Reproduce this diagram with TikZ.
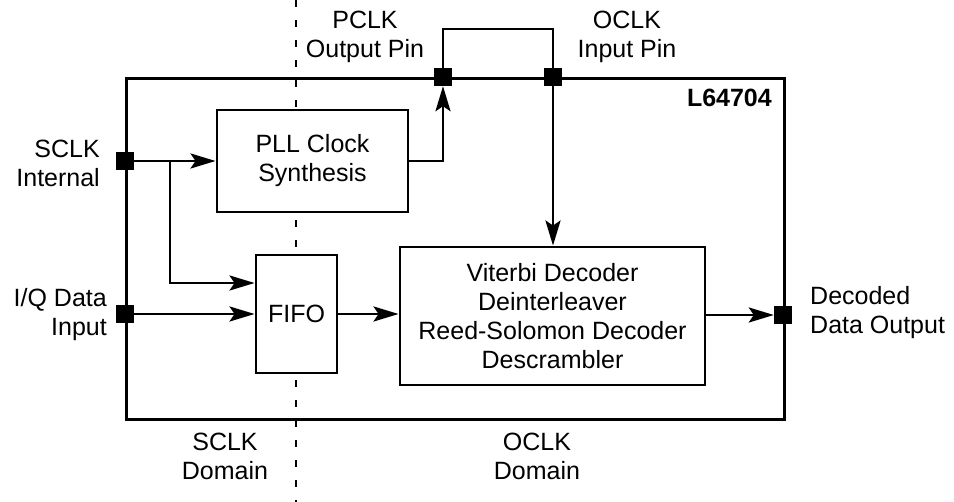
\documentclass[tikz,border=0pt]{standalone}
\usepackage{fontspec}
\setmainfont{Liberation Sans}
\usetikzlibrary{arrows.meta,calc}
\begin{document}
\begin{tikzpicture}[x=1pt,y=-1pt,
  every node/.style={font=\fontsize{25}{29}\selectfont, inner sep=0pt},
  ln/.style={line width=2.9pt},
  arr/.style={ln, -{Stealth[length=25pt,width=15pt,inset=5pt]}},
  blk/.style={ln, draw, fill=white, align=center},
  pinsq/.style={fill=black, minimum size=18pt, inner sep=0pt},
  lbl/.style={align=center}]
\useasboundingbox (0,0) rectangle (954,502);
% domain divider
\coordinate (dtop) at (296,0);
\coordinate (dbot) at (296,502);
\draw[line width=2.9pt, dash pattern=on 7pt off 13pt] (dtop) -- (dbot);
% chip outline
\node[ln, draw, minimum width=658pt, minimum height=341pt, anchor=north west] (chip) at (125,77) {};
% blocks
\node[blk, minimum width=191pt, minimum height=102pt] (pll) at (312.5,161) {PLL Clock\\Synthesis};
\node[blk, minimum width=81pt, minimum height=118pt] (fifo) at (296.5,314) {FIFO};
\node[blk, minimum width=305pt, minimum height=138pt] (vit) at (552.5,316) {Viterbi Decoder\\Deinterleaver\\Reed-Solomon Decoder\\Descrambler};
% pins
\node[pinsq] (sclkpin) at (125,161) {};
\node[pinsq] (iqpin) at (125,314) {};
\node[pinsq] (pclkpin) at (443,77) {};
\node[pinsq] (oclkpin) at (553,77) {};
\node[pinsq] (decpin) at (783,315) {};
% connectors
\coordinate (br) at (170,161);
\coordinate (looptop) at (0,29);
\draw[arr] (sclkpin) -- (pll.west);
\draw[arr] (br) |- ([yshift=31pt]fifo.west);
\draw[arr] (iqpin) -- (fifo.west);
\draw[arr] (fifo.east) -- (fifo.east -| vit.west);
\draw[arr] (vit.east |- decpin) -- (decpin);
\draw[arr] (pll.east) -| (pclkpin);
\draw[ln] (pclkpin) -- (pclkpin |- looptop) -| (oclkpin);
\draw[arr] (oclkpin) -- (oclkpin |- vit.north);
% labels
\node[align=right, anchor=east] (sclklbl) at (100,163) {SCLK\\Internal};
\node[align=right, anchor=east] (iqlbl) at (107,315) {I/Q Data\\Input};
\node[align=left, anchor=west] (declbl) at (810,313) {Decoded\\Data Output};
\node[lbl] (pclklbl) at (365,37) {PCLK\\Output Pin};
\node[lbl] (oclklbl) at (627,37) {OCLK\\Input Pin};
\node[anchor=base east, font=\fontsize{25}{29}\selectfont\bfseries] (chipname) at (772,107) {L64704};
\node[lbl] (sdom) at (225,456) {SCLK\\Domain};
\node[lbl] (odom) at (537,456) {OCLK\\Domain};
\end{tikzpicture}
\end{document}
